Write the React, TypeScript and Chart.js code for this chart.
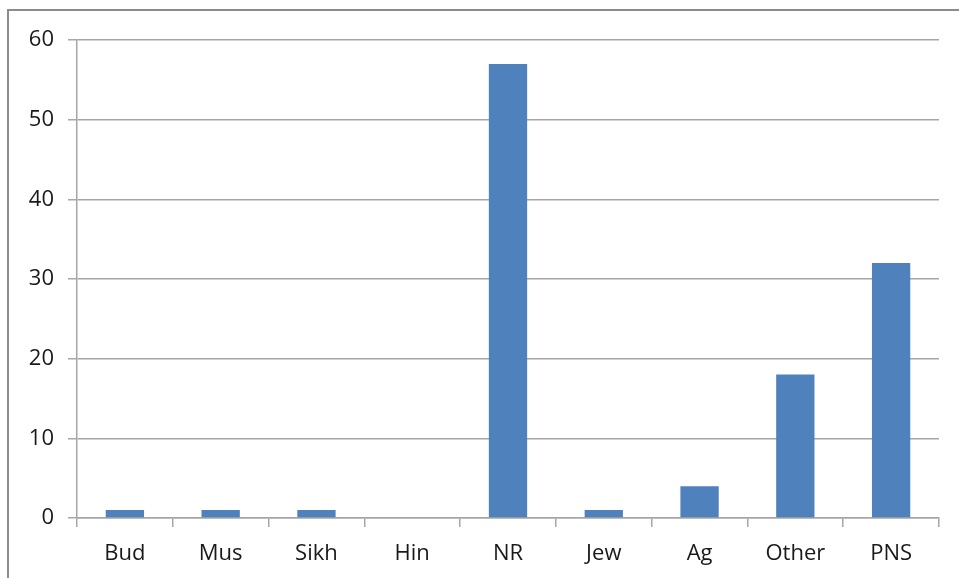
import React, { useEffect, useRef } from "react";
import { Chart, registerables } from "chart.js";

Chart.register(...registerables);

const categories = ["Bud", "Mus", "Sikh", "Hin", "NR", "Jew", "Ag", "Other", "PNS"];
const counts = [1, 1, 1, 0, 57, 1, 4, 18, 32];
const yTicks = [0, 10, 20, 30, 40, 50, 60];

const framePlugin = {
  id: "frame",
  beforeDraw(chart: any) {
    const ctx = chart.ctx;
    ctx.save();
    ctx.fillStyle = "#ffffff";
    ctx.fillRect(0, 0, chart.width, chart.height);
    ctx.strokeStyle = "#8c8c8c";
    ctx.lineWidth = 2;
    ctx.beginPath();
    ctx.moveTo(8, chart.height + 5);
    ctx.lineTo(8, 10);
    ctx.lineTo(chart.width + 5, 10);
    ctx.stroke();
    ctx.restore();
  },
};

export default function App() {
  const ref = useRef<HTMLCanvasElement | null>(null);
  useEffect(() => {
    document.body.style.margin = "0";
    const chart = new Chart(ref.current as HTMLCanvasElement, {
      type: "bar",
      data: {
        labels: categories,
        datasets: [
          {
            data: counts,
            backgroundColor: "#4F81BD",
            barPercentage: 0.4,
            categoryPercentage: 1,
          },
        ],
      },
      plugins: [framePlugin],
      options: {
        animation: false,
        responsive: false,
        maintainAspectRatio: false,
        layout: { padding: { left: 0, top: 40, right: 20, bottom: 0 } },
        plugins: { legend: { display: false }, tooltip: { enabled: false } },
        scales: {
          x: {
            offset: true,
            grid: {
              offset: true,
              drawOnChartArea: false,
              drawTicks: true,
              tickLength: 9,
              color: "#a6a6a6",
              lineWidth: 1.5,
            },
            border: { display: true, color: "#a6a6a6", width: 1.5 },
            ticks: {
              color: "#1a1a1a",
              padding: 14,
              font: { family: "Open Sans", size: 22 },
              maxRotation: 0,
            },
            afterFit(scale: any) {
              scale.height = 60;
            },
          },
          y: {
            min: 0,
            max: 60,
            afterBuildTicks(scale: any) {
              scale.ticks = yTicks.map((v) => ({ value: v }));
            },
            grid: {
              color: "#a6a6a6",
              lineWidth: 1.5,
              drawTicks: true,
              tickLength: 9,
            },
            border: { display: true, color: "#a6a6a6", width: 1.5 },
            ticks: {
              color: "#1a1a1a",
              padding: 14,
              font: { family: "Open Sans", size: 22 },
            },
            afterFit(scale: any) {
              scale.width = 77;
            },
          },
        },
      },
    });
    return () => chart.destroy();
  }, []);
  return (
    <div style={{ width: 959, height: 578 }}>
      <canvas ref={ref} width={959} height={578} style={{ display: "block" }} />
    </div>
  );
}
